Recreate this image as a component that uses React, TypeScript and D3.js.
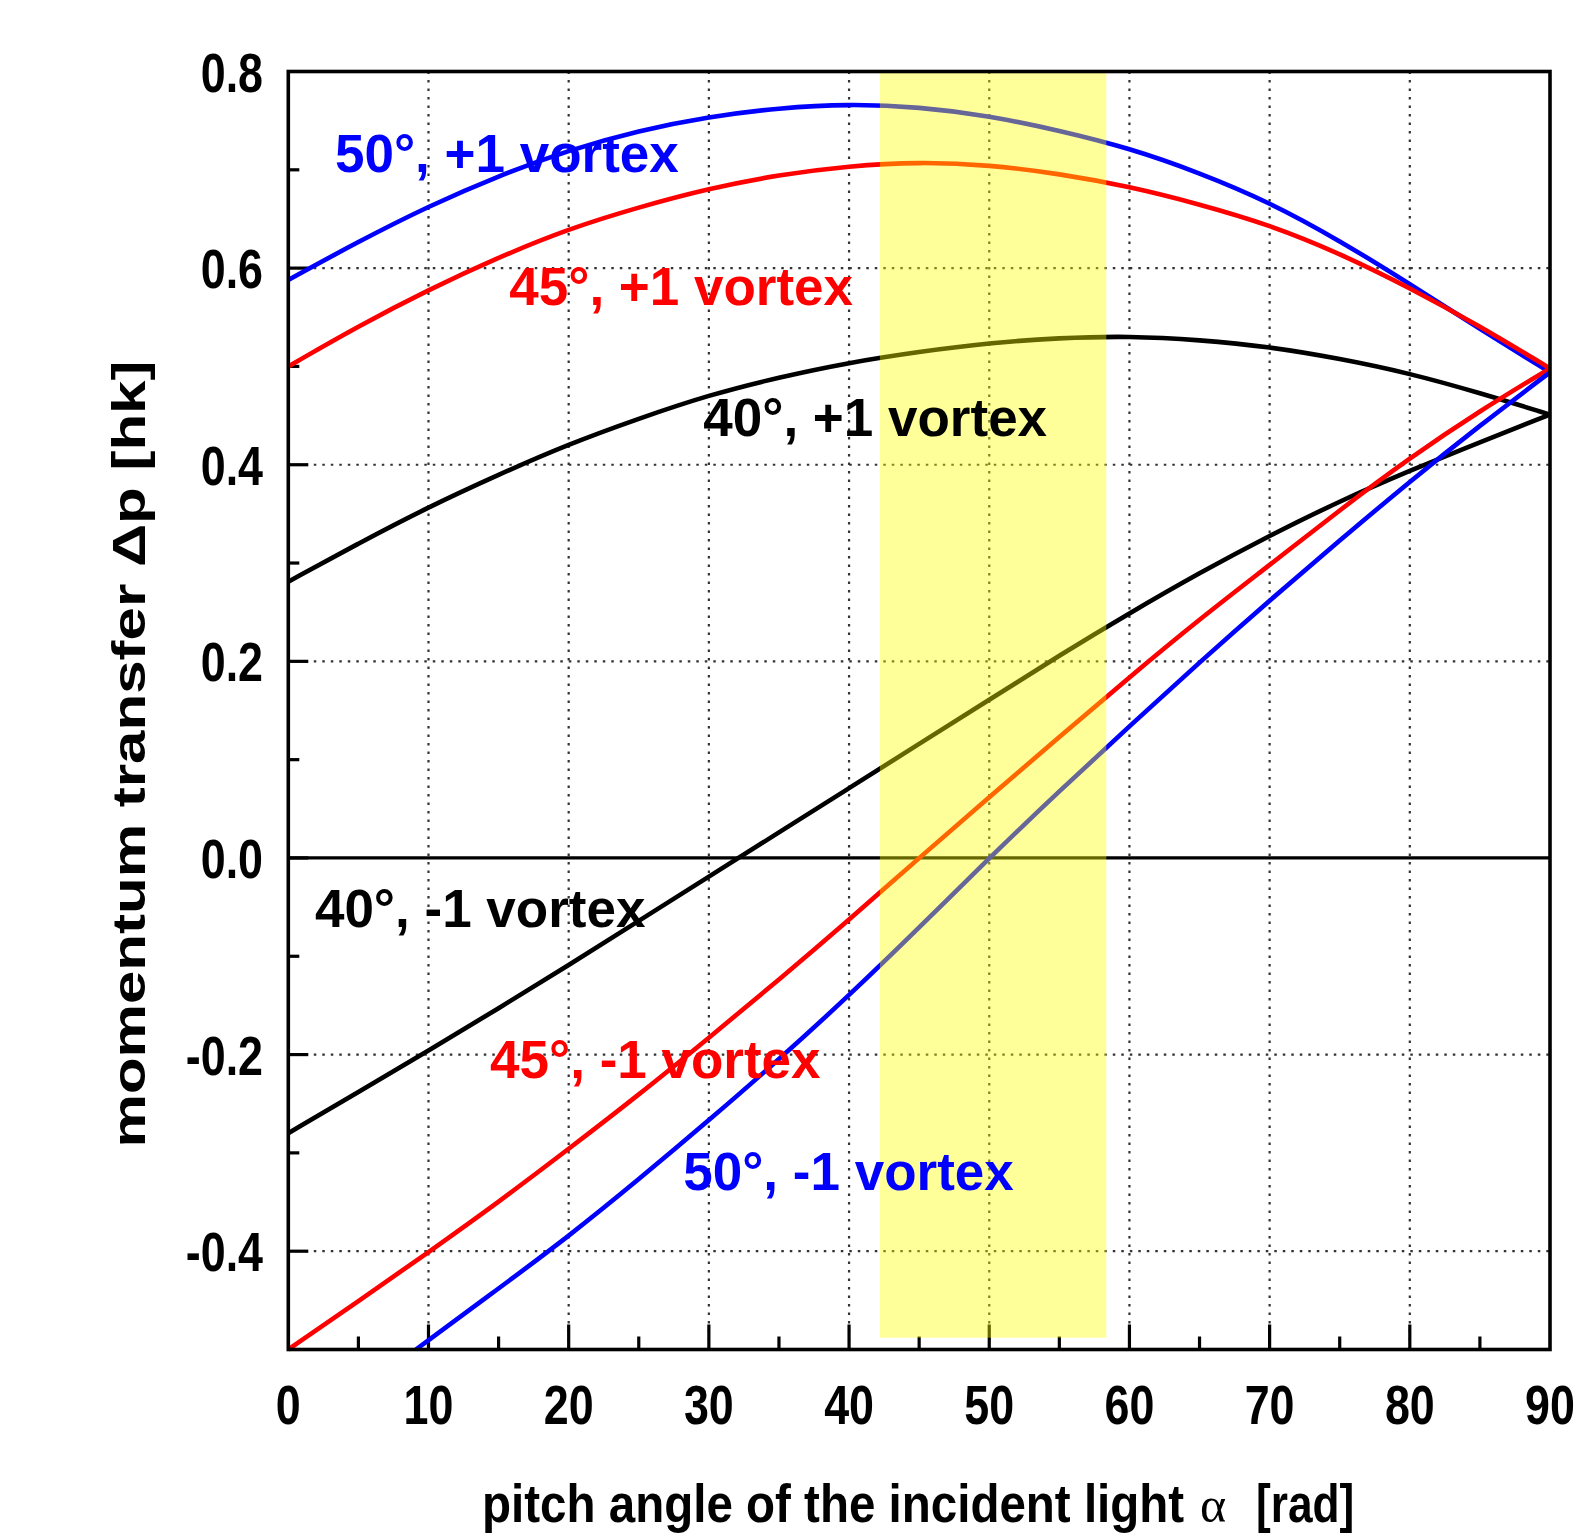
import React from "react";
import * as d3 from "d3";

// ---- data ----
const ANGLES = [0, 5, 10, 15, 20, 25, 30, 35, 40, 45, 50, 55, 60, 65, 70, 75, 80, 85, 90];

const BLUE_PLUS = [0.588, 0.627, 0.663, 0.694, 0.720, 0.740, 0.754, 0.763, 0.767, 0.764, 0.755, 0.740, 0.722, 0.697, 0.667, 0.628, 0.584, 0.538, 0.494];
const RED_PLUS = [0.500, 0.541, 0.578, 0.611, 0.640, 0.662, 0.681, 0.695, 0.704, 0.708, 0.705, 0.696, 0.683, 0.665, 0.644, 0.615, 0.580, 0.541, 0.498];
const BLACK_PLUS = [0.281, 0.320, 0.357, 0.390, 0.421, 0.447, 0.471, 0.489, 0.504, 0.515, 0.524, 0.529, 0.531, 0.527, 0.520, 0.508, 0.493, 0.473, 0.451];
const BLACK_MINUS = [-0.280, -0.238, -0.196, -0.153, -0.109, -0.064, -0.019, 0.026, 0.071, 0.116, 0.161, 0.206, 0.249, 0.290, 0.328, 0.363, 0.394, 0.423, 0.451];
const RED_MINUS = [-0.500, -0.451, -0.401, -0.350, -0.296, -0.241, -0.183, -0.124, -0.063, 0.000, 0.062, 0.123, 0.184, 0.243, 0.298, 0.354, 0.407, 0.455, 0.498];
const BLUE_MINUS_ANGLES = [9.1, 15, 20, 25, 30, 35, 40, 45, 50, 55, 60, 65, 70, 75, 80, 85, 90];
const BLUE_MINUS = [-0.500, -0.438, -0.385, -0.327, -0.267, -0.205, -0.140, -0.071, 0.000, 0.068, 0.134, 0.199, 0.262, 0.323, 0.383, 0.440, 0.494];

const X_TICKS = [0, 10, 20, 30, 40, 50, 60, 70, 80, 90];
const X_MINOR = [5, 15, 25, 35, 45, 55, 65, 75, 85];
const Y_TICKS = [0.8, 0.6, 0.4, 0.2, 0.0, -0.2, -0.4];
const Y_TICK_LABELS = ["0.8", "0.6", "0.4", "0.2", "0.0", "-0.2", "-0.4"];
const Y_MINOR = [0.7, 0.5, 0.3, 0.1, -0.1, -0.3];

const BAND = [42.2, 58.35];
const BAND_BOTTOM = -0.488;

const SERIES = [
  { name: "50°, +1 vortex", color: "#0000ff", xs: ANGLES, ys: BLUE_PLUS },
  { name: "45°, +1 vortex", color: "#ff0000", xs: ANGLES, ys: RED_PLUS },
  { name: "40°, +1 vortex", color: "#000000", xs: ANGLES, ys: BLACK_PLUS },
  { name: "40°, -1 vortex", color: "#000000", xs: ANGLES, ys: BLACK_MINUS },
  { name: "45°, -1 vortex", color: "#ff0000", xs: ANGLES, ys: RED_MINUS },
  { name: "50°, -1 vortex", color: "#0000ff", xs: BLUE_MINUS_ANGLES, ys: BLUE_MINUS },
];

// annotation anchors (data coords of text start / baseline)
const ANNOT = [
  { text: "50°, +1 vortex", color: "#0000ff", x: 3.33, y: 0.698 },
  { text: "45°, +1 vortex", color: "#ff0000", x: 15.76, y: 0.5626 },
  { text: "40°, +1 vortex", color: "#000000", x: 29.6, y: 0.429 },
  { text: "40°, -1 vortex", color: "#000000", x: 1.9, y: -0.07 },
  { text: "45°, -1 vortex", color: "#ff0000", x: 14.39, y: -0.224 },
  { text: "50°, -1 vortex", color: "#0000ff", x: 28.17, y: -0.338 },
];

const W = 1592;
const H = 1540;
const LEFT = 288.3;
const RIGHT = 1550;
const TOP = 71.5;
const BOTTOM = 1349.5;

const FONT = "'Liberation Sans', Arial, Helvetica, sans-serif";

export default function App() {
  const x = d3.scaleLinear().domain([0, 90]).range([LEFT, RIGHT]);
  const y = d3.scaleLinear().domain([-0.5, 0.8]).range([BOTTOM, TOP]);

  const line = d3
    .line<[number, number]>()
    .x((d) => x(d[0]))
    .y((d) => y(d[1]))
    .curve(d3.curveBasis);

  const gridStyle = {
    stroke: "#333",
    strokeWidth: 2.2,
    strokeDasharray: "2.5,6",
    fill: "none",
  };

  return (
    <svg
      width={W}
      height={H}
      viewBox={`0 0 ${W} ${H}`}
      style={{ position: "absolute", left: 0, top: 0, background: "#fff" }}
    >
      <rect x={0} y={0} width={W} height={H} fill="#fff" />
      {/* grid */}
      {X_TICKS.filter((t) => t > 0 && t < 90).map((t) => (
        <line key={"gx" + t} x1={x(t)} x2={x(t)} y1={TOP} y2={BOTTOM} style={gridStyle} />
      ))}
      {Y_TICKS.filter((t) => t !== 0 && t !== 0.8).map((t) => (
        <line key={"gy" + t} x1={LEFT} x2={RIGHT} y1={y(t)} y2={y(t)} style={gridStyle} />
      ))}
      {/* zero line */}
      <line x1={LEFT} x2={RIGHT} y1={y(0)} y2={y(0)} stroke="#000" strokeWidth={3.2} />

      {/* ticks */}
      {X_TICKS.filter((t) => t > 0 && t < 90).map((t) => (
        <line key={"tx" + t} x1={x(t)} x2={x(t)} y1={BOTTOM} y2={BOTTOM - 25} stroke="#000" strokeWidth={3.2} />
      ))}
      {X_MINOR.map((t) => (
        <line key={"mx" + t} x1={x(t)} x2={x(t)} y1={BOTTOM} y2={BOTTOM - 13} stroke="#000" strokeWidth={3.2} />
      ))}
      {Y_TICKS.filter((t) => t !== 0.8).map((t) => (
        <line key={"ty" + t} x1={LEFT} x2={LEFT + 20} y1={y(t)} y2={y(t)} stroke="#000" strokeWidth={3.2} />
      ))}
      {Y_MINOR.map((t) => (
        <line key={"my" + t} x1={LEFT} x2={LEFT + 11} y1={y(t)} y2={y(t)} stroke="#000" strokeWidth={3.2} />
      ))}

      {/* curves */}
      {SERIES.map((s) => (
        <path
          key={s.name}
          d={line(s.xs.map((v, i) => [v, s.ys[i]] as [number, number])) || ""}
          fill="none"
          stroke={s.color}
          strokeWidth={4.6}
          strokeLinejoin="round"
        />
      ))}

      {/* highlighted band */}
      <rect
        x={x(BAND[0])}
        y={TOP}
        width={x(BAND[1]) - x(BAND[0])}
        height={y(BAND_BOTTOM) - TOP}
        fill="#ffff00"
        fillOpacity={0.4}
      />

      {/* frame */}
      <rect x={LEFT} y={TOP} width={RIGHT - LEFT} height={BOTTOM - TOP} fill="none" stroke="#000" strokeWidth={3.6} />

      {/* annotations */}
      {ANNOT.map((a) => (
        <text
          key={a.text}
          x={x(a.x)}
          y={y(a.y)}
          fill={a.color}
          fontFamily={FONT}
          fontWeight="bold"
          fontSize={53}
        >
          {a.text}
        </text>
      ))}

      {/* tick labels */}
      {X_TICKS.map((t) => (
        <text
          key={"lx" + t}
          transform={`translate(${x(t)},${1424}) scale(0.8,1)`}
          textAnchor="middle"
          fontFamily={FONT}
          fontWeight="bold"
          fontSize={56}
          fill="#000"
        >
          {String(t)}
        </text>
      ))}
      {Y_TICKS.map((t, i) => (
        <text
          key={"ly" + t}
          transform={`translate(${263},${y(t) + 20}) scale(0.8,1)`}
          textAnchor="end"
          fontFamily={FONT}
          fontWeight="bold"
          fontSize={56}
          fill="#000"
        >
          {Y_TICK_LABELS[i]}
        </text>
      ))}

      {/* axis titles */}
      <text
        transform="translate(482,1522) scale(0.88,1)"
        fontFamily={FONT}
        fontWeight="bold"
        fontSize={54}
        fill="#000"
      >
        pitch angle of the incident light
      </text>
      <text
        x={1200}
        y={1522}
        fontFamily="'Liberation Serif', 'DejaVu Serif', serif"
        fontSize={50}
        fill="#000"
      >
        α
      </text>
      <text
        transform="translate(1256,1522) scale(0.82,1)"
        fontFamily={FONT}
        fontWeight="bold"
        fontSize={54}
        fill="#000"
      >
        [rad]
      </text>
      <text
        transform={`translate(145,754) rotate(-90)`}
        textAnchor="middle"
        textLength={787}
        lengthAdjust="spacingAndGlyphs"
        fontFamily={FONT}
        fontWeight="bold"
        fontSize={46}
        fill="#000"
      >
        momentum transfer Δp [hk]
      </text>
    </svg>
  );
}
